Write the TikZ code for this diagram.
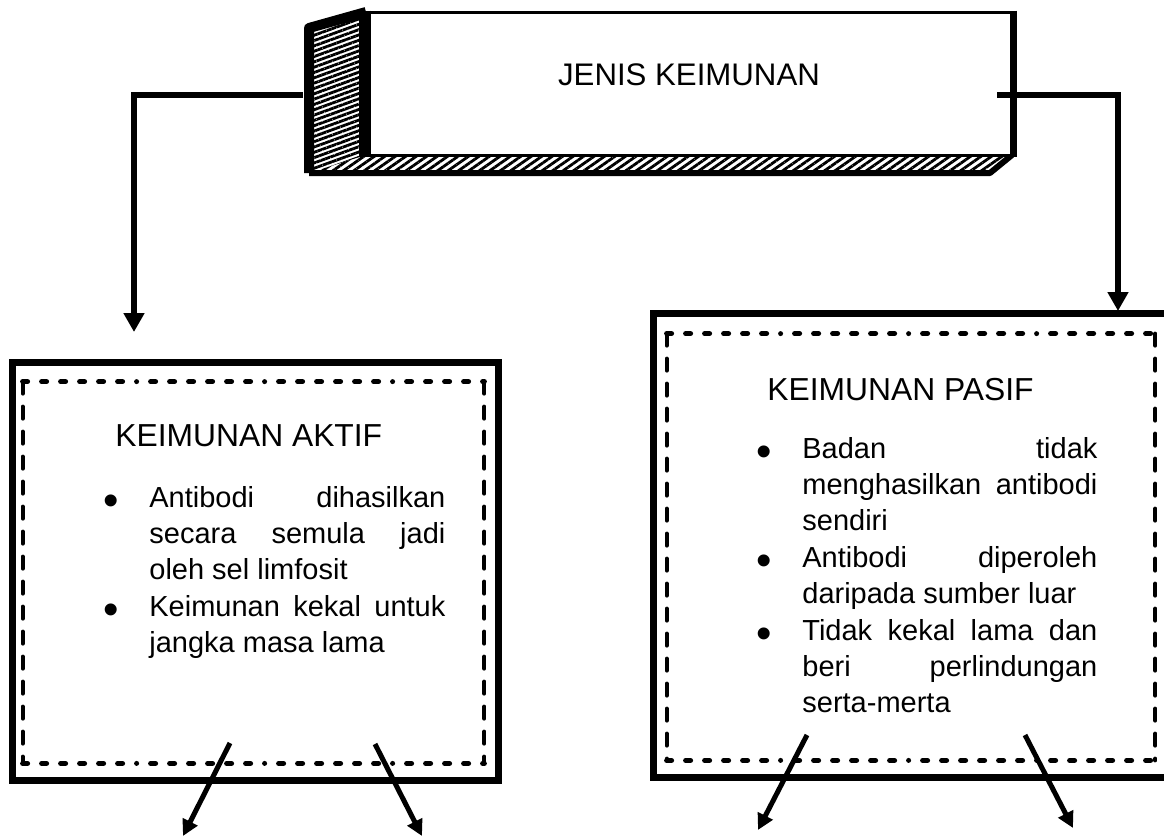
\documentclass[tikz,border=0pt]{standalone}
\usepackage{fontspec}
\setmainfont{Liberation Sans}
\usetikzlibrary{arrows.meta, positioning, patterns.meta}

\newcommand{\butir}{\noindent\llap{\raisebox{-4.2pt}{\fontsize{22pt}{0pt}\selectfont\textbullet}\hspace{15.4pt}}}

\tikzset{
	mukabox/.style={
		rectangle, draw=black, fill=white,
		line width=1.5pt, inner sep=0pt
	},
	luarbox/.style={
		rectangle, draw=black, line width=3.5pt, inner sep=0pt
	},
	dalambox/.style={
		rectangle, inner sep=0pt
	},
	garisH/.style={
		line width=2.5pt, line cap=round,
		dash pattern=on 2.5pt off 7pt on 2.5pt off 7pt on 2.5pt off 7pt on 2.5pt off 7pt on 2.5pt off 7pt on 2.5pt off 7pt on 0pt off 7pt
	},
	garisV/.style={
		line width=2pt, line cap=round, dash pattern=on 6pt off 6.5pt
	},
	arrow/.style={
		-{Triangle[length=9.5pt,width=10pt]}, line width=3pt
	},
	sarrow/.style={
		-{Triangle[length=8pt,width=8pt]}, line width=2.5pt
	},
	tajuk/.style={
		font=\fontsize{15.9pt}{19pt}\selectfont, inner sep=0pt, anchor=base west
	},
	isi/.style={
		font=\fontsize{14.5pt}{18.2pt}\selectfont, text width=148pt,
		align=justify, inner sep=0pt, anchor=base west
	}
}

\begin{document}
\begin{tikzpicture}[x=0.5pt, y=-0.5pt]
	\path[fill=white, use as bounding box] (0,0) rectangle (1164,836);
	
	%% ═══════════════════════════════
	%%  TOP BOX — JENIS KEIMUNAN (3D, hatched)
	%% ═══════════════════════════════
	\fill[pattern={Lines[angle=20,distance=2.5pt,line width=1.4pt]}]
	(309,28) -- (366,12) -- (366,155) -- (309,173) -- cycle;
	\fill[pattern={Lines[angle=35,distance=3pt,line width=1.4pt]}]
	(309,173) -- (366,155) -- (1012,155) -- (990,173) -- cycle;
	\draw[line width=5pt, line join=round] (309,173) -- (309,28) -- (366,12);
	\draw[line width=3pt, line join=round] (309,173) -- (990,173) -- (1012,155);
	
	\node[mukabox, minimum width=323pt, minimum height=71.5pt] (jenis) at (689,83.5) {};
	\draw[line width=6pt] (jenis.north west) -- (jenis.south west);
	\draw[line width=3.5pt] (jenis.north east) -- (jenis.south east);
	\node[font=\fontsize{15.6pt}{19pt}\selectfont] (jenislbl) at ([yshift=4.5pt]jenis.center) {JENIS KEIMUNAN};
	
	%% ═══════════════════════════════
	%%  BOXES — AKTIF (left), PASIF (right)
	%% ═══════════════════════════════
	\node[luarbox, minimum width=243pt, minimum height=209pt] (aktif) at (255,571) {};
	\node[dalambox, minimum width=230.5pt, minimum height=190.5pt] (aktifdalam) at (253.5,572.5) {};
	
	\node[luarbox, minimum width=258.5pt, minimum height=232pt] (pasif) at (911.5,545) {};
	\node[dalambox, minimum width=244pt, minimum height=213pt] (pasifdalam) at (911,547) {};
	
	\foreach \b in {aktifdalam, pasifdalam}{
		\draw[garisH] (\b.north west) -- (\b.north east);
		\draw[garisH] (\b.south west) -- (\b.south east);
		\draw[garisV] (\b.north west) -- (\b.south west);
		\draw[garisV] (\b.north east) -- (\b.south east);
	}
	
	% texts
	\node[tajuk] (aktiftajuk) at (115,446) {KEIMUNAN AKTIF};
	\node[isi] (aktifisi) at (149,507) {\butir Antibodi dihasilkan\linebreak secara semula jadi\linebreak oleh sel limfosit\par
		\butir Keimunan kekal untuk\linebreak jangka masa lama};
	
	\node[tajuk] (pasiftajuk) at (767,400) {KEIMUNAN PASIF};
	\node[isi, text width=147.5pt] (pasifisi) at (802,458) {\butir Badan tidak\linebreak menghasilkan antibodi\linebreak sendiri\par
		\butir Antibodi diperoleh\linebreak daripada sumber luar\par
		\butir Tidak kekal lama dan\linebreak beri perlindungan\linebreak serta-merta};
	
	%% ═══════════════════════════════
	%%  ARROWS
	%% ═══════════════════════════════
	\coordinate (kiriA)  at (303,95);
	\coordinate (kiriB)  at (134,332);
	\coordinate (kananA) at (997,95);
	\coordinate (kananB) at (1118,311);
	
	% JENIS KEIMUNAN -> both boxes
	\draw[arrow] (kiriA) -| (kiriB);
	\draw[arrow] (kananA) -| (kananB);
	
	% arrows leaving the boxes
	\coordinate (a1) at (230,743);  \coordinate (a1t) at (183,836);
	\coordinate (a2) at (375,744);  \coordinate (a2t) at (422,836);
	\coordinate (p1) at (807,735);  \coordinate (p1t) at (758,830);
	\coordinate (p2) at (1025,735); \coordinate (p2t) at (1073,828);
	\foreach \s/\t in {a1/a1t, a2/a2t, p1/p1t, p2/p2t}
	\draw[sarrow] (\s) -- (\t);
\end{tikzpicture}
\end{document}
